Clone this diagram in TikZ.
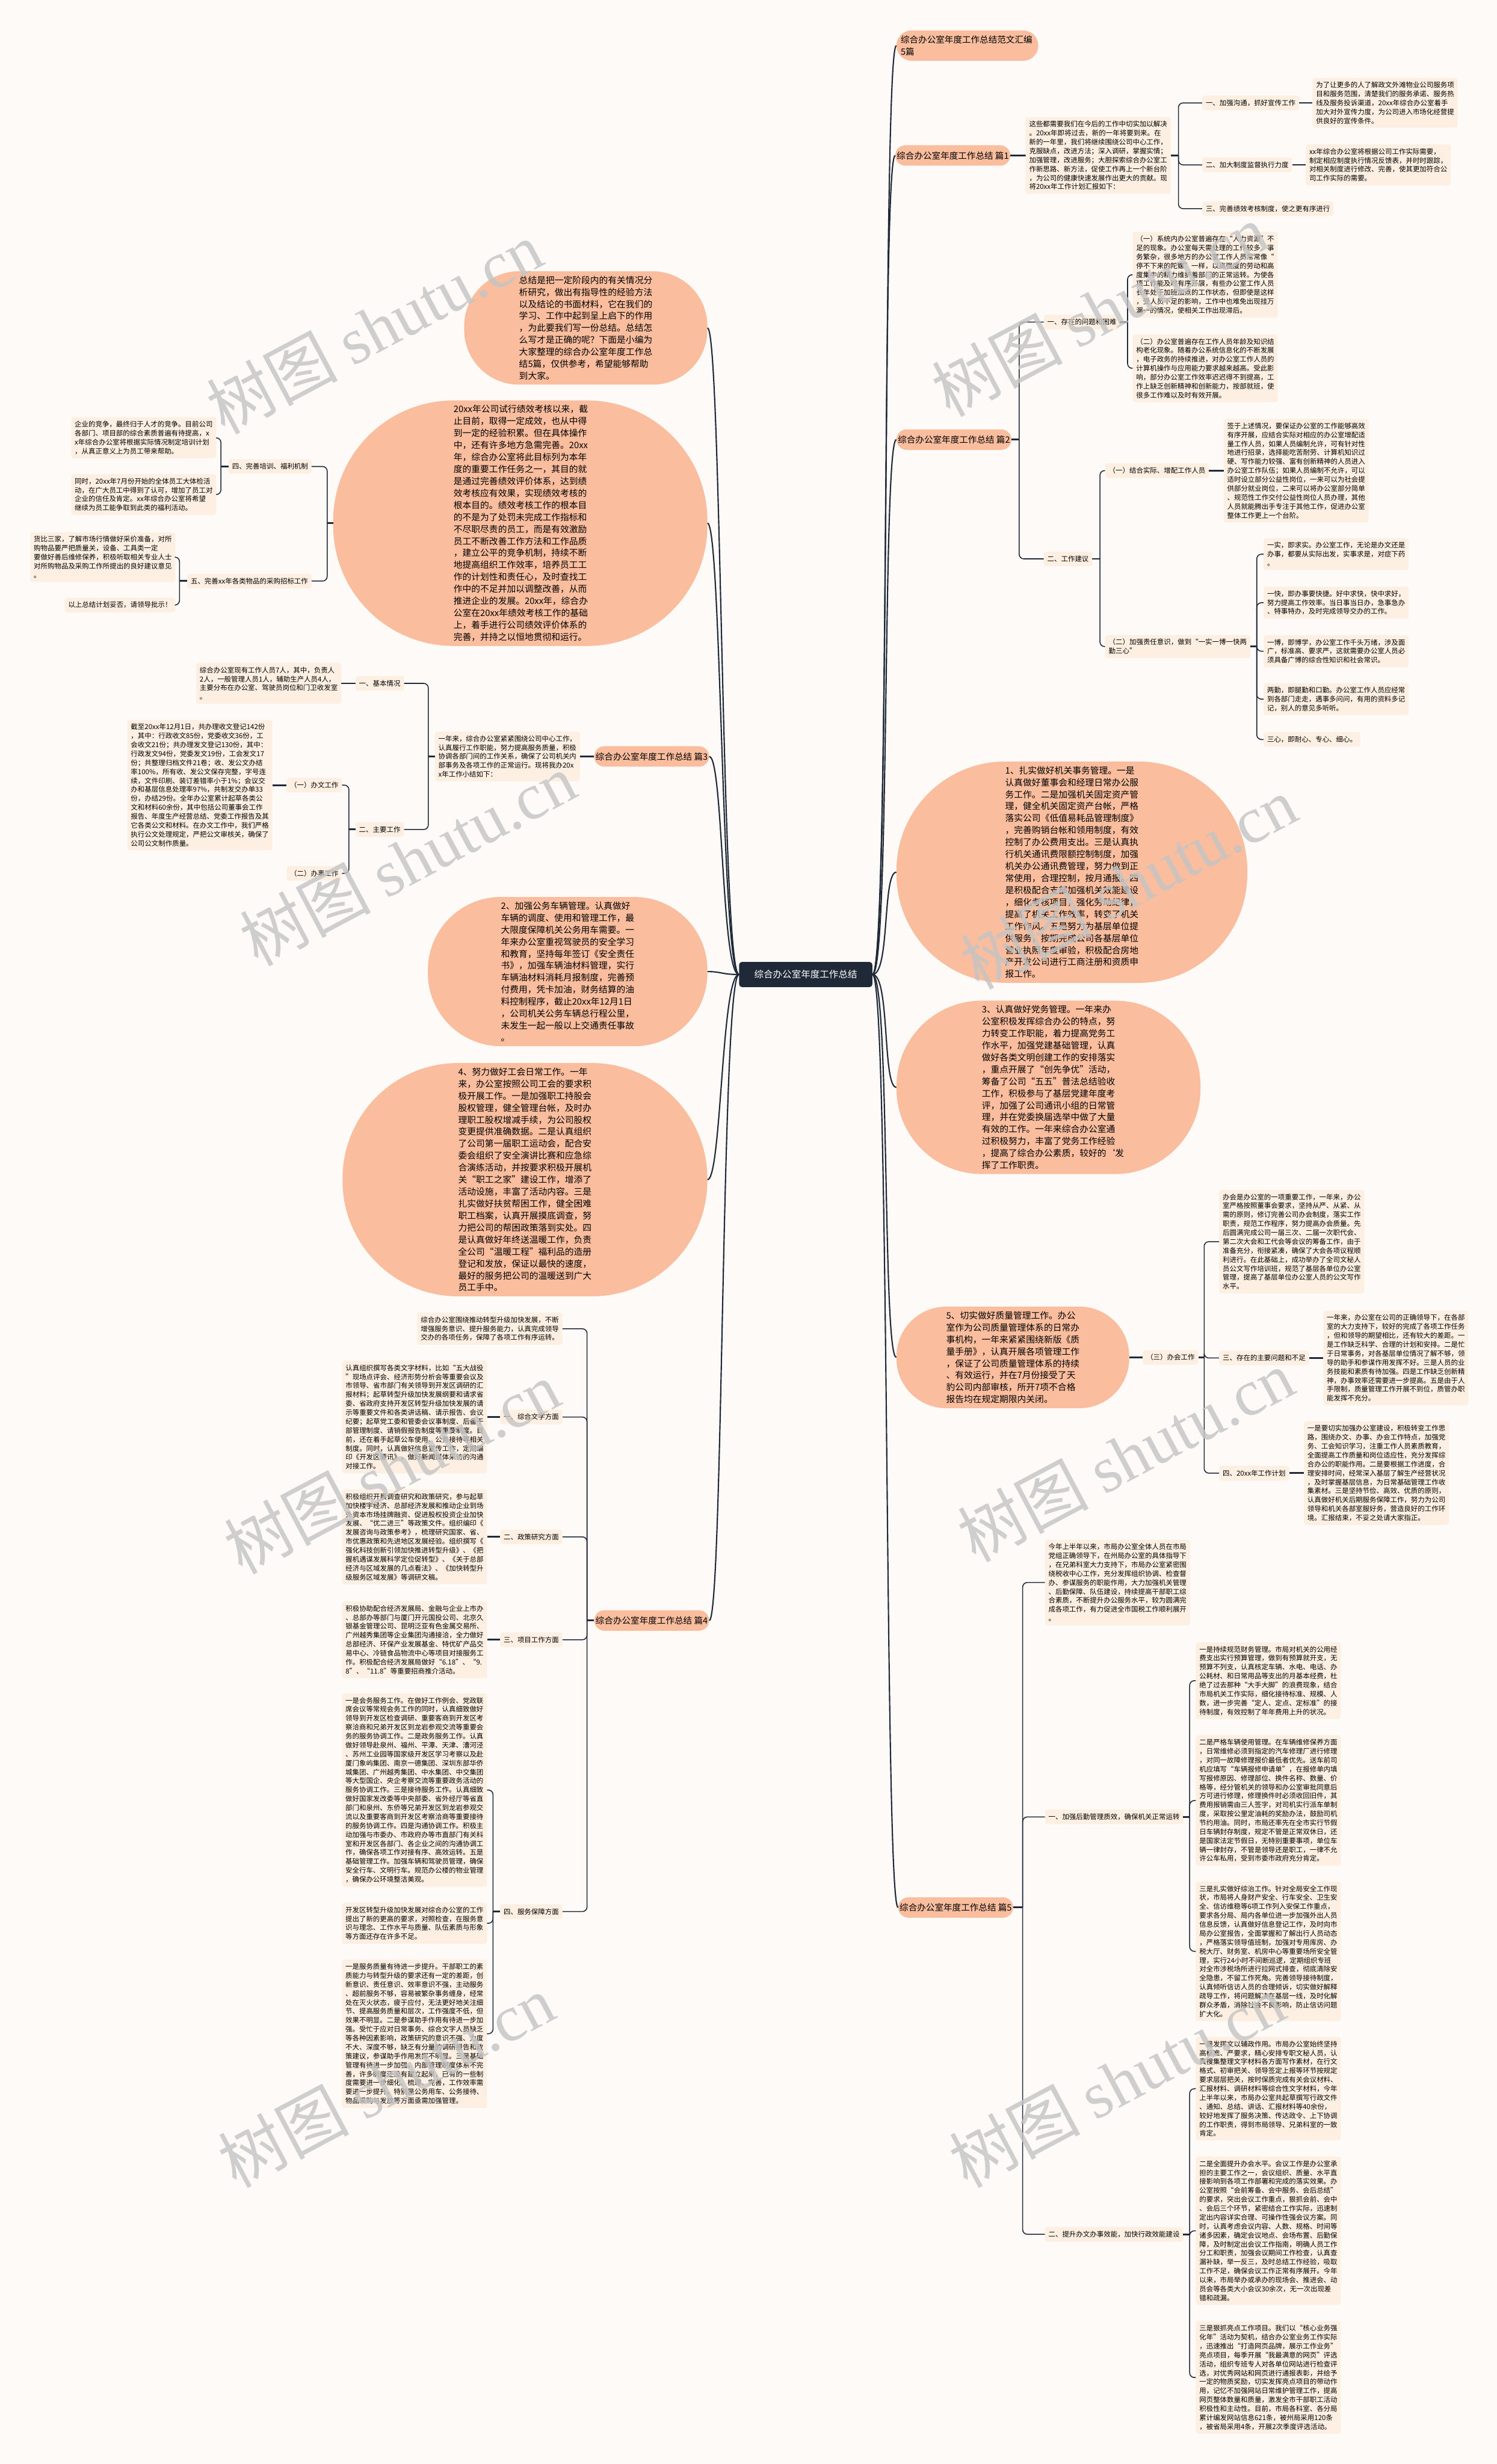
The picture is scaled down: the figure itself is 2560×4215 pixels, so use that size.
\documentclass[tikz,border=0pt]{standalone}
\usepackage{fontspec}
\setmainfont{Noto Sans CJK SC}
\newfontfamily\markserif{Liberation Serif}
\usetikzlibrary{shapes.misc, positioning}
\definecolor{mapSalmon}{RGB}{250,189,157}
\definecolor{mapCream}{RGB}{253,240,226}
\definecolor{mapInk}{RGB}{31,41,56}
\definecolor{mapPaper}{RGB}{253,250,247}
\definecolor{mapMark}{RGB}{196,196,196}
\newcommand{\leaffont}{\fontsize{11.8}{15.3}\selectfont}
\newcommand{\bubblefont}{\fontsize{15.2}{20.5}\selectfont}
\newcommand{\topicfont}{\fontsize{15}{20}\selectfont}

\begin{document}
\begin{tikzpicture}[x=1pt, y=-1pt,
    leaf/.style={fill=mapCream, rounded corners=4pt, text width=236pt, align=left, inner xsep=6pt, inner ysep=6.5pt, font=\leaffont},
    tag/.style={fill=mapCream, rounded corners=4pt, inner xsep=6pt, inner ysep=2pt, minimum height=25pt, font=\leaffont},
    topic/.style={rounded rectangle, fill=mapSalmon, inner xsep=1pt, inner ysep=2pt, minimum height=35pt, font=\topicfont},
    bubble/.style={fill=mapSalmon, text width=228pt, align=left, inner xsep=#1, rounded corners=#1, inner ysep=8pt, font=\bubblefont},
    hub/.style={fill=mapInk, text=white, rounded corners=5pt, minimum width=228pt, minimum height=43pt, font=\fontsize{16}{20}\selectfont},
    trunk/.style={draw=mapInk, line width=2.2pt},
    stub/.style={draw=mapInk, line width=3pt},
    spine/.style={draw=mapInk, line width=1.6pt, rounded corners=8pt},
    stamp/.style={text=mapMark, text opacity=0.8, rotate=28, font=\fontsize{112}{112}\selectfont}
  ]
  \useasboundingbox (0,0) rectangle (2560,4215);
  \fill[mapPaper] (0,0) rectangle (2560,4215);

  % centre
  \node[hub] (ct) at (1378,1667) {综合办公室年度工作总结};

  % ---------- right side ----------
  \node[topic, text width=228pt, align=left, inner ysep=9pt, anchor=west] (t0) at (1533,78) {综合办公室年度工作总结范文汇编\\5篇};

  % 篇1
  \node[topic, anchor=west] (p1) at (1531,266) {综合办公室年度工作总结 篇1};
  \node[leaf, right=26pt of p1] (i1) {这些都需要我们在今后的工作中切实加以解决\\
    。20xx年即将过去，新的一年将要到来。在\\
    新的一年里，我们将继续围绕公司中心工作，\\
    克服缺点，改进方法；深入调研，掌握实情；\\
    加强管理，改进服务；大胆探索综合办公室工\\
    作新思路、新方法，促使工作再上一个新台阶\\
    ，为公司的健康快速发展作出更大的贡献。现\\
    将20xx年工作计划汇报如下：};
  \node[tag, anchor=west] (a1) at (2056,176) {一、加强沟通，抓好宣传工作};
  \node[leaf, right=23pt of a1] (l1a) {为了让更多的人了解政文外滩物业公司服务项\\
    目和服务范围，清楚我们的服务承诺、服务热\\
    线及服务投诉渠道，20xx年综合办公室着手\\
    加大对外宣传力度，为公司进入市场化经营提\\
    供良好的宣传条件。};
  \node[tag, anchor=west] (a2) at (2056,282) {二、加大制度监督执行力度};
  \node[leaf, right=23pt of a2] (l1b) {xx年综合办公室将根据公司工作实际需要，\\
    制定相应制度执行情况反馈表，并时时跟踪，\\
    对相关制度进行修改、完善，使其更加符合公\\
    司工作实际的需要。};
  \node[tag, anchor=west] (a3) at (2056,357) {三、完善绩效考核制度，使之更有序进行};

  % 篇2
  \node[topic, anchor=west] (p2) at (1533,752) {综合办公室年度工作总结 篇2};
  \node[tag, anchor=west] (b1) at (1785,551) {一、存在的问题和困难};
  \node[leaf, anchor=west] (l2a) at (1937,470) {（一）系统内办公室普遍存在“人力资源”不\\
    足的现象。办公室每天需处理的工作较多，事\\
    务繁杂，很多地方的办公室工作人员常常像“\\
    停不下来的陀螺”一样，以高强度的劳动和高\\
    度集中的精力维护着部门的正常运转。为使各\\
    项工作能及时有序开展，有些办公室工作人员\\
    长年处于加班加点的工作状态，但即使是这样\\
    ，受人员不足的影响，工作中也难免出现挂万\\
    漏一的情况，使相关工作出现滞后。};
  \node[leaf, anchor=west] (l2b) at (1937,630) {（二）办公室普遍存在工作人员年龄及知识结\\
    构老化现象。随着办公系统信息化的不断发展\\
    ，电子政务的持续推进，对办公室工作人员的\\
    计算机操作与应用能力要求越来越高。受此影\\
    响，部分办公室工作效率迟迟得不到提高，工\\
    作上缺乏创新精神和创新能力，按部就班，使\\
    很多工作难以及时有效开展。};
  \node[tag, anchor=west] (b2) at (1785,956) {二、工作建议};
  \node[tag, anchor=west] (b21) at (1890,805) {（一）结合实际、增配工作人员};
  \node[leaf, right=25pt of b21] (l2c) {签于上述情况，要保证办公室的工作能够高效\\
    有序开展，应结合实际对相应的办公室增配适\\
    量工作人员，如果人员编制允许，可有针对性\\
    地进行招录，选择能吃苦耐劳、计算机知识过\\
    硬、写作能力较强、富有创新精神的人员进入\\
    办公室工作队伍；如果人员编制不允许，可以\\
    适时设立部分公益性岗位，一来可以为社会提\\
    供部分就业岗位，二来可以将办公室部分简单\\
    、规范性工作交付公益性岗位人员办理，其他\\
    人员就能腾出手专注于其他工作，促进办公室\\
    整体工作更上一个台阶。};
  \node[leaf, anchor=west] (b22) at (1890,1106) {（二）加强责任意识，做到“一实一博一快两\\勤三心”};
  \node[leaf, anchor=west] (l2d) at (2161,948) {一实，即求实。办公室工作，无论是办文还是\\
    办事，都要从实际出发，实事求是，对症下药\\
    。};
  \node[leaf, anchor=west] (l2e) at (2161,1031) {一快，即办事要快捷。好中求快，快中求好，\\
    努力提高工作效率。当日事当日办，急事急办\\
    、特事特办，及时完成领导交办的工作。};
  \node[leaf, anchor=west] (l2f) at (2161,1114) {一博，即博学，办公室工作千头万绪，涉及面\\
    广，标准高、要求严，这就需要办公室人员必\\
    须具备广博的综合性知识和社会常识。};
  \node[leaf, anchor=west] (l2g) at (2161,1196) {两勤，即腿勤和口勤。办公室工作人员应经常\\
    到各部门走走，遇事多问问，有用的资料多记\\
    记，别人的意见多听听。};
  \node[tag, anchor=west] (l2h) at (2161,1265) {三心，即耐心、专心、细心。};

  % bubbles 1, 3, 5
  \node[bubble=186pt, anchor=west] (e1) at (1533,1492) {1、扎实做好机关事务管理。一是\\
    认真做好董事会和经理日常办公服\\
    务工作。二是加强机关固定资产管\\
    理，健全机关固定资产台帐，严格\\
    落实公司《低值易耗品管理制度》\\
    ，完善购销台帐和领用制度，有效\\
    控制了办公费用支出。三是认真执\\
    行机关通讯费限额控制制度，加强\\
    机关办公通讯费管理，努力做到正\\
    常使用，合理控制，按月通报。四\\
    是积极配合支部加强机关效能建设\\
    ，细化考核项目，强化劳动纪律，\\
    提高了机关工作效率，转变了机关\\
    工作作风。五是努力为基层单位提\\
    供服务，按期完成公司各基层单位\\
    营业执照年度审验，积极配合房地\\
    产开发公司进行工商注册和资质申\\
    报工作。};
  \node[bubble=146pt, anchor=west] (e3) at (1533,1860) {3、认真做好党务管理。一年来办\\
    公室积极发挥综合办公的特点，努\\
    力转变工作职能，着力提高党务工\\
    作水平，加强党建基础管理，认真\\
    做好各类文明创建工作的安排落实\\
    ，重点开展了“创先争优”活动，\\
    筹备了公司“五五”普法总结验收\\
    工作，积极参与了基层党建年度考\\
    评，加强了公司通讯小组的日常管\\
    理，并在党委换届选举中做了大量\\
    有效的工作。一年来综合办公室通\\
    过积极努力，丰富了党务工作经验\\
    ，提高了综合办公素质，较好的`发\\
    挥了工作职责。};
  \node[bubble=85pt, anchor=west] (e5) at (1533,2322) {5、切实做好质量管理工作。办公\\
    室作为公司质量管理体系的日常办\\
    事机构，一年来紧紧围绕新版《质\\
    量手册》，认真开展各项管理工作\\
    ，保证了公司质量管理体系的持续\\
    、有效运行，并在7月份接受了天\\
    豹公司内部审核，所开7项不合格\\
    报告均在规定期限内关闭。};
  \node[tag, right=23pt of e5] (c0) {（三）办会工作};
  \node[leaf, anchor=west] (l5a) at (2085,2124) {办会是办公室的一项重要工作，一年来，办公\\
    室严格按照董事会要求，坚持从严、从紧、从\\
    需的原则，修订完善公司办会制度，落实工作\\
    职责，规范工作程序，努力提高办会质量。先\\
    后圆满完成公司一届三次、二届一次职代会、\\
    第二次大会和工代会等会议的筹备工作，由于\\
    准备充分，衔接紧凑，确保了大会各项议程顺\\
    利进行。在此基础上，成功举办了全司文秘人\\
    员公文写作培训班，规范了基层各单位办公室\\
    管理，提高了基层单位办公室人员的公文写作\\
    水平。};
  \node[tag, anchor=west] (c1) at (2085,2323) {三、存在的主要问题和不足};
  \node[leaf, right=24pt of c1] (l5b) {一年来，办公室在公司的正确领导下，在各部\\
    室的大力支持下，较好的完成了各项工作任务\\
    ，但和领导的期望相比，还有较大的差距。一\\
    是工作缺乏科学、合理的计划和安排。二是忙\\
    于日常事务，对各基层单位情况了解不够，领\\
    导的助手和参谋作用发挥不好。三是人员的业\\
    务技能和素质有待加强。四是工作缺乏创新精\\
    神，办事效率还需要进一步提高。五是由于人\\
    手限制，质量管理工作开展不到位，质管办职\\
    能发挥不充分。};
  \node[tag, anchor=west] (c2) at (2085,2520) {四、20xx年工作计划};
  \node[leaf, right=25pt of c2] (l5c) {一是要切实加强办公室建设，积极转变工作思\\
    路，围绕办文、办事、办会工作特点，加强党\\
    务、工会知识学习，注重工作人员素质教育，\\
    全面提高工作质量和岗位适应性，充分发挥综\\
    合办公的职能作用。二是要根据工作进度，合\\
    理安排时间，经常深入基层了解生产经营状况\\
    ，及时掌握基层信息，为日常基础管理工作收\\
    集素材。三是坚持节俭、高效、优质的原则，\\
    认真做好机关后期服务保障工作，努力为公司\\
    领导和机关各部室服好务，营造良好的工作环\\
    境。汇报结束，不妥之处请大家指正。};

  % 篇5
  \node[topic, anchor=west] (p5) at (1536,3263) {综合办公室年度工作总结 篇5};
  \node[leaf, anchor=west] (i5) at (1787,2707) {今年上半年以来，市局办公室全体人员在市局\\
    党组正确领导下，在州局办公室的具体指导下\\
    ，在兄弟科室大力支持下，市局办公室紧密围\\
    绕税收中心工作，充分发挥组织协调、检查督\\
    办、参谋服务的职能作用，大力加强机关管理\\
    、后勤保障、队伍建设，持续提高干部职工综\\
    合素质，不断提升办公服务水平，较为圆满完\\
    成各项工作，有力促进全市国税工作顺利展开\\
    。};
  \node[tag, anchor=west] (d1) at (1787,3108) {一、加强后勤管理质效，确保机关正常运转};
  \node[leaf, anchor=west] (l5d) at (2045,2875) {一是持续规范财务管理。市局对机关的公用经\\
    费支出实行预算管理，做到有预算就开支，无\\
    预算不列支，认真核定车辆、水电、电话、办\\
    公耗材、和日常用品等支出的月基本经费，杜\\
    绝了过去那种“大手大脚”的浪费现象，结合\\
    市局机关工作实际，细化接待标准、规模、人\\
    数，进一步完善“定人、定点、定标准”的接\\
    待制度，有效控制了年年费用上升的状况。};
  \node[leaf, anchor=west] (l5e) at (2045,3080) {二是严格车辆使用管理。在车辆维修保养方面\\
    ，日常维修必须到指定的汽车修理厂进行修理\\
    ，对同一故障修理报价最低者优先。送车前司\\
    机应填写“车辆报修申请单”，在报修单内填\\
    写报修原因、修理部位、换件名称、数量、价\\
    格等，经分管机关的领导和办公室审批同意后\\
    方可进行修理，修理换件时必须收回旧件，其\\
    费用报销需由三人签字，对司机实行派车单制\\
    度，采取按公里定油耗的奖励办法，鼓励司机\\
    节约用油。同时，市局还率先在全市实行节假\\
    日车辆封存制度，规定不管是正常双休日，还\\
    是国家法定节假日，无特别重要事项，单位车\\
    辆一律封存，不管是领导还是职工，一律不允\\
    许公车私用，受到市委市政府充分肯定。};
  \node[leaf, anchor=west] (l5f) at (2045,3338) {三是扎实做好综治工作。针对全局安全工作现\\
    状，市局将人身财产安全、行车安全、卫生安\\
    全、信访维稳等6项工作列入安保工作重点，\\
    要求各分局、局内各单位进一步加强外出人员\\
    信息反馈，认真做好信息登记工作，及时向市\\
    局办公室报告，全面掌握和了解出行人员动态\\
    ，严格落实领导值班制，加强对专用库房、办\\
    税大厅、财务室、机房中心等重要场所安全管\\
    理，实行24小时不间断巡逻，定期组织专班\\
    对全市涉税场所进行拉网式排查，彻底清除安\\
    全隐患，不留工作死角。完善领导接待制度，\\
    认真倾听信访人员的合理倾诉，切实做好解释\\
    疏导工作，将问题解决在基层一线，及时化解\\
    群众矛盾，消除社会不良影响，防止信访问题\\
    扩大化。};
  \node[tag, anchor=west] (d2) at (1787,3822) {二、提升办文办事效能，加快行政效能建设};
  \node[leaf, anchor=west] (l5g) at (2045,3573) {一是发挥文以辅政作用。市局办公室始终坚持\\
    高标准、严要求，精心安排专职文秘人员，认\\
    真搜集整理文字材料各方面写作素材，在行文\\
    格式、初审把关、领导签定上报等环节按规定\\
    要求层层把关，按时保质完成有关会议材料、\\
    汇报材料、调研材料等综合性文字材料，今年\\
    上半年以来，市局办公室共起草撰写行政文件\\
    、通知、总结、讲话、汇报材料等40余份，\\
    较好地发挥了服务决策、传达政令、上下协调\\
    的工作职责，得到市局领导、兄弟科室的一致\\
    肯定。};
  \node[leaf, anchor=west] (l5h) at (2045,3816) {二是全面提升办会水平。会议工作是办公室承\\
    担的主要工作之一，会议组织、质量、水平直\\
    接影响到各项工作部署和完成的落实效果。办\\
    公室按照“会前筹备、会中服务、会后总结”\\
    的要求，突出会议工作重点，狠抓会前、会中\\
    、会后三个环节，紧密结合工作实际，迅速制\\
    定出内容详实合理、可操作性强会议方案。同\\
    时，认真考虑会议内容、人数、规格、时间等\\
    诸多因素，确定会议地点、会场布置、后勤保\\
    障，及时制定出会议工作指南，明确人员工作\\
    分工和职责，加强会议期间工作检查，认真查\\
    漏补缺，举一反三，及时总结工作经验，吸取\\
    工作不足，确保会议工作正常有序展开。今年\\
    以来，市局举办或承办的现场会、推进会、动\\
    员会等各类大小会议30余次，无一次出现差\\
    错和疏漏。};
  \node[leaf, anchor=west] (l5i) at (2045,4067) {三是狠抓亮点工作项目。我们以“核心业务强\\
    化年”活动为契机，结合办公室业务工作实际\\
    ，迅速推出“打造网页品牌，展示工作业务”\\
    亮点项目，每季开展“我最满意的网页”评选\\
    活动，组织专班专人对各单位网站进行检查评\\
    选，对优秀网站和网页进行通报表彰，并给予\\
    一定的物质奖励，切实发挥亮点项目的带动作\\
    用，记忆不加强网站日常维护管理工作，提高\\
    网页整体数量和质量，激发全市干部职工活动\\
    积极性和主动性。目前，市局各科室、各分局\\
    累计编发网站信息621条，被州局采用120条\\
    ，被省局采用4条，开展2次季度评选活动。};

  % ---------- left side ----------
  \node[bubble=94pt, anchor=east] (e0) at (1210,561) {总结是把一定阶段内的有关情况分\\
    析研究，做出有指导性的经验方法\\
    以及结论的书面材料，它在我们的\\
    学习、工作中起到呈上启下的作用\\
    ，为此要我们写一份总结。总结怎\\
    么写才是正确的呢？下面是小编为\\
    大家整理的综合办公室年度工作总\\
    结5篇，仅供参考，希望能够帮助\\
    到大家。};
  \node[bubble=206pt, anchor=east] (e20) at (1210,895) {20xx年公司试行绩效考核以来，截\\
    止目前，取得一定成效，也从中得\\
    到一定的经验积累。但在具体操作\\
    中，还有许多地方急需完善。20xx\\
    年，综合办公室将此目标列为本年\\
    度的重要工作任务之一，其目的就\\
    是通过完善绩效评价体系，达到绩\\
    效考核应有效果，实现绩效考核的\\
    根本目的。绩效考核工作的根本目\\
    的不是为了处罚未完成工作指标和\\
    不尽职尽责的员工，而是有效激励\\
    员工不断改善工作方法和工作品质\\
    ，建立公平的竞争机制，持续不断\\
    地提高组织工作效率，培养员工工\\
    作的计划性和责任心，及时查找工\\
    作中的不足并加以调整改善，从而\\
    推进企业的发展。20xx年，综合办\\
    公室在20xx年绩效考核工作的基础\\
    上，着手进行公司绩效评价体系的\\
    完善，并持之以恒地贯彻和运行。};
  \node[tag, anchor=east] (f1) at (533,798) {四、完善培训、福利机制};
  \node[leaf, anchor=east] (fa) at (370,749) {企业的竞争，最终归于人才的竞争。目前公司\\
    各部门、项目部的综合素质普遍有待提高，x\\
    x年综合办公室将根据实际情况制定培训计划\\
    ，从真正意义上为员工带来帮助。};
  \node[leaf, anchor=east] (fb) at (370,846) {同时，20xx年7月份开始的全体员工大体检活\\
    动，在广大员工中得到了认可，增加了员工对\\
    企业的信任及肯定。xx年综合办公室将希望\\
    继续为员工能争取到此类的福利活动。};
  \node[tag, anchor=east] (f2) at (533,994) {五、完善xx年各类物品的采购招标工作};
  \node[leaf, anchor=east] (fc) at (300,953) {货比三家，了解市场行情做好采价准备，对所\\
    购物品要严把质量关，设备、工具类一定\\
    要做好善后维修保养，积极听取相关专业人士\\
    对所购物品及采购工作所提出的良好建议意见\\
    。};
  \node[tag, anchor=east] (fd) at (300,1035) {以上总结计划妥否，请领导批示！};

  % 篇3
  \node[topic, anchor=east] (p3) at (1213,1294) {综合办公室年度工作总结 篇3};
  \node[leaf, left=24pt of p3] (i3) {一年来，综合办公室紧紧围绕公司中心工作，\\
    认真履行工作职能，努力提高服务质量，积极\\
    协调各部门间的工作关系，确保了公司机关内\\
    部事务及各项工作的正常运行。现将我办20x\\
    x年工作小结如下：};
  \node[tag, anchor=east] (g1) at (691,1169) {一、基本情况};
  \node[leaf, left=24pt of g1] (gl1) {综合办公室现有工作人员7人，其中，负责人\\
    2人，一般管理人员1人，辅助生产人员4人，\\
    主要分布在办公室、驾驶员岗位和门卫收发室\\
    。};
  \node[tag, anchor=east] (g2) at (691,1419) {二、主要工作};
  \node[tag, anchor=east] (g21) at (585,1343) {（一）办文工作};
  \node[leaf, left=24pt of g21] (gl21) {截至20xx年12月1日，共办理收文登记142份\\
    ，其中：行政收文85份，党委收文36份，工\\
    会收文21份；共办理发文登记130份，其中：\\
    行政发文94份，党委发文19份，工会发文17\\
    份；共整理归档文件21卷；收、发公文办结\\
    率100\%，所有收、发公文保存完整，字号连\\
    续，文件印刷、装订差错率小于1\%；会议交\\
    办和基层信息处理率97\%，共制发交办单33\\
    份，办结29份。全年办公室累计起草各类公\\
    文和材料60余份，其中包括公司董事会工作\\
    报告、年度生产经营总结、党委工作报告及其\\
    它各类公文和材料。在办文工作中，我们严格\\
    执行公文处理规定，严把公文审核关，确保了\\
    公司公文制作质量。};
  \node[tag, anchor=east] (g22) at (585,1494) {（二）办事工作};

  % bubbles 2, 4
  \node[bubble=125pt, anchor=east] (e2) at (1210,1662) {2、加强公务车辆管理。认真做好\\
    车辆的调度、使用和管理工作，最\\
    大限度保障机关公务用车需要。一\\
    年来办公室重视驾驶员的安全学习\\
    和教育，坚持每年签订《安全责任\\
    书》，加强车辆油材料管理，实行\\
    车辆油材料消耗月报制度，完善预\\
    付费用，凭卡加油，财务结算的油\\
    料控制程序，截止20xx年12月1日\\
    ，公司机关公务车辆总行程公里，\\
    未发生一起一般以上交通责任事故\\
    。};
  \node[bubble=198pt, anchor=east] (e4) at (1210,2018) {4、努力做好工会日常工作。一年\\
    来，办公室按照公司工会的要求积\\
    极开展工作。一是加强职工持股会\\
    股权管理，健全管理台帐，及时办\\
    理职工股权增减手续，为公司股权\\
    变更提供准确数据。二是认真组织\\
    了公司第一届职工运动会，配合安\\
    委会组织了安全演讲比赛和应急综\\
    合演练活动，并按要求积极开展机\\
    关“职工之家”建设工作，增添了\\
    活动设施，丰富了活动内容。三是\\
    扎实做好扶贫帮困工作，健全困难\\
    职工档案，认真开展摸底调查，努\\
    力把公司的帮困政策落到实处。四\\
    是认真做好年终送温暖工作，负责\\
    全公司“温暖工程”福利品的造册\\
    登记和发放，保证以最快的速度，\\
    最好的服务把公司的温暖送到广大\\
    员工手中。};

  % 篇4
  \node[topic, anchor=east] (p4) at (1213,2772) {综合办公室年度工作总结 篇4};
  \node[leaf, anchor=east] (i4) at (962,2273) {综合办公室围绕推动转型升级加快发展，不断\\
    增强服务意识、提升服务能力，认真完成领导\\
    交办的各项任务，保障了各项工作有序运转。};
  \node[tag, anchor=east] (h1) at (962,2424) {一、综合文字方面};
  \node[leaf, left=22pt of h1] (hl1) {认真组织撰写各类文字材料，比如“五大战役\\
    ”现场点评会、经济形势分析会等重要会议及\\
    市领导、省市部门有关领导到开发区调研的汇\\
    报材料；起草转型升级加快发展纲要和请求省\\
    委、省政府支持开发区转型升级加快发展的请\\
    示等重要文件和各类讲话稿、请示报告、会议\\
    纪要；起草党工委和管委会议事制度、后备干\\
    部管理制度、请销假报告制度等重要制度。目\\
    前，还在着手起草公车使用、公务接待等相关\\
    制度。同时，认真做好信息宣传工作，定期编\\
    印《开发区要讯》，做好新闻媒体采访的沟通\\
    对接工作。};
  \node[tag, anchor=east] (h2) at (962,2629) {二、政策研究方面};
  \node[leaf, left=22pt of h2] (hl2) {积极组织开展调查研究和政策研究，参与起草\\
    加快楼宇经济、总部经济发展和推动企业到场\\
    外资本市场挂牌融资、促进股权投资企业加快\\
    发展、“优二进三”等政策文件。组织编印《\\
    发展咨询与政策参考》，梳理研究国家、省、\\
    市优惠政策和先进地区发展经验。组织撰写《\\
    强化科技创新引领加快推进转型升级》、《把\\
    握机遇谋发展科学定位促转型》、《关于总部\\
    经济与区域发展的几点看法》、《加快转型升\\
    级服务区域发展》等调研文稿。};
  \node[tag, anchor=east] (h3) at (962,2805) {三、项目工作方面};
  \node[leaf, left=22pt of h3] (hl3) {积极协助配合经济发展局、金融与企业上市办\\
    、总部办等部门与厦门开元国投公司、北京久\\
    银基金管理公司、昆明泛亚有色金属交易所、\\
    广州越秀集团等企业集团沟通接洽，全力做好\\
    总部经济、环保产业发展基金、特优矿产品交\\
    易中心、冷链食品物流中心等项目对接服务工\\
    作。积极配合经济发展局做好“6.18”、“9.\\
    8”、“11.8”等重要招商推介活动。};
  \node[tag, anchor=east] (h4) at (962,3270) {四、服务保障方面};
  \node[leaf, anchor=east] (hl4a) at (833,3062) {一是会务服务工作。在做好工作例会、党政联\\
    席会议等常规会务工作的同时，认真细致做好\\
    领导到开发区检查调研、重要客商到开发区考\\
    察洽商和兄弟开发区到龙岩参观交流等重要会\\
    务的服务协调工作。二是政务服务工作。认真\\
    做好领导赴泉州、福州、平潭、天津、漕河泾\\
    、苏州工业园等国家级开发区学习考察以及赴\\
    厦门象屿集团、南京一德集团、深圳东部华侨\\
    城集团、广州越秀集团、中水集团、中交集团\\
    等大型国企、央企考察交流等重要政务活动的\\
    服务协调工作。三是接待服务工作。认真细致\\
    做好国家发改委等中央部委、省外经厅等省直\\
    部门和泉州、东侨等兄弟开发区到龙岩参观交\\
    流以及重要客商到开发区考察洽商等重要接待\\
    的服务协调工作。四是沟通协调工作。积极主\\
    动加强与市委办、市政府办等市直部门有关科\\
    室和开发区各部门、各企业之间的沟通协调工\\
    作，确保各项工作对接有序、高效运转。五是\\
    基础管理工作。加强车辆和驾驶员管理，确保\\
    安全行车、文明行车。规范办公楼的物业管理\\
    ，确保办公环境整洁美观。};
  \node[leaf, anchor=east] (hl4b) at (833,3290) {开发区转型升级加快发展对综合办公室的工作\\
    提出了新的更高的要求，对照检查，在服务意\\
    识与理念、工作水平与质量、队伍素质与形象\\
    等方面还存在许多不足。};
  \node[leaf, anchor=east] (hl4c) at (833,3479) {一是服务质量有待进一步提升。干部职工的素\\
    质能力与转型升级的要求还有一定的差距，创\\
    新意识、责任意识、效率意识不强，主动服务\\
    、超前服务不够，容易被繁杂事务缠身，经常\\
    处在灭火状态，疲于应付，无法更好地关注细\\
    节、提高服务质量和层次，工作强度不低，但\\
    效果不明显。二是参谋助手作用有待进一步加\\
    强。受忙于应对日常事务、综合文字人员缺乏\\
    等各种因素影响，政策研究的意识不强、力度\\
    不大、深度不够，缺乏有分量的调研报告和政\\
    策建议，参谋助手作用发挥不明显。三是基础\\
    管理有待进一步加强。内部管理制度体系不完\\
    善，许多制度还没有建立起来，已有的一些制\\
    度需要进一步细化、梳理、完善，工作效率需\\
    要进一步提升。特别是公务用车、公务接待、\\
    物品采购与发放等方面亟需加强管理。};

  % ---------- connectors ----------
  \foreach \n in {t0,p1,p2,e1,e3,e5,p5}
    \draw[trunk] (ct.east) .. controls +(30,0) and +(-24,0) .. (\n.west);
  \foreach \n in {e0,e20,p3,e2,e4,p4}
    \draw[trunk] (ct.west) .. controls +(-30,0) and +(24,0) .. (\n.east);

  \draw[stub] (p1) -- (i1);
  \draw[stub] (a1) -- (l1a);
  \draw[stub] (a2) -- (l1b);
  \draw[stub] (b21) -- (l2c);
  \draw[stub] (e5) -- (c0);
  \draw[stub] (c1) -- (l5b);
  \draw[stub] (c2) -- (l5c);
  \draw[stub] (p3) -- (i3);
  \draw[stub] (g1) -- (gl1);
  \draw[stub] (g21) -- (gl21);
  \draw[stub] (h1) -- (hl1);
  \draw[stub] (h2) -- (hl2);
  \draw[stub] (h3) -- (hl3);

  % right-hand brackets
  \path (i1.east) ++(13,0) coordinate (i1j);
  \draw[stub] (i1.east) -- (i1j);
  \foreach \c in {a1,a2,a3} \draw[spine] (i1j) |- (\c.west);
  \path (p2.east) ++(13,0) coordinate (p2j);
  \draw[stub] (p2.east) -- (p2j);
  \foreach \c in {b1,b2} \draw[spine] (p2j) |- (\c.west);
  \path (b1.east) ++(13,0) coordinate (b1j);
  \draw[stub] (b1.east) -- (b1j);
  \foreach \c in {l2a,l2b} \draw[spine] (b1j) |- (\c.west);
  \path (b2.east) ++(13,0) coordinate (b2j);
  \draw[stub] (b2.east) -- (b2j);
  \foreach \c in {b21,b22} \draw[spine] (b2j) |- (\c.west);
  \path (b22.east) ++(11,0) coordinate (b22j);
  \draw[stub] (b22.east) -- (b22j);
  \foreach \c in {l2d,l2e,l2f,l2g,l2h} \draw[spine] (b22j) |- (\c.west);
  \path (c0.east) ++(10,0) coordinate (c0j);
  \draw[stub] (c0.east) -- (c0j);
  \foreach \c in {l5a,c1,c2} \draw[spine] (c0j) |- (\c.west);
  \path (p5.east) ++(16,0) coordinate (p5j);
  \draw[stub] (p5.east) -- (p5j);
  \foreach \c in {i5,d1,d2} \draw[spine] (p5j) |- (\c.west);
  \path (d1.east) ++(11,0) coordinate (d1j);
  \draw[stub] (d1.east) -- (d1j);
  \foreach \c in {l5d,l5e,l5f} \draw[spine] (d1j) |- (\c.west);
  \path (d2.east) ++(11,0) coordinate (d2j);
  \draw[stub] (d2.east) -- (d2j);
  \foreach \c in {l5g,l5h,l5i} \draw[spine] (d2j) |- (\c.west);

  % left-hand brackets
  \path (e20.west) ++(-10,0) coordinate (e20j);
  \draw[stub] (e20.west) -- (e20j);
  \foreach \c in {f1,f2} \draw[spine] (e20j) |- (\c.east);
  \path (f1.west) ++(-13,0) coordinate (f1j);
  \draw[stub] (f1.west) -- (f1j);
  \foreach \c in {fa,fb} \draw[spine] (f1j) |- (\c.east);
  \path (f2.west) ++(-13,0) coordinate (f2j);
  \draw[stub] (f2.west) -- (f2j);
  \foreach \c in {fc,fd} \draw[spine] (f2j) |- (\c.east);
  \path (i3.west) ++(-11,0) coordinate (i3j);
  \draw[stub] (i3.west) -- (i3j);
  \foreach \c in {g1,g2} \draw[spine] (i3j) |- (\c.east);
  \path (g2.west) ++(-11,0) coordinate (g2j);
  \draw[stub] (g2.west) -- (g2j);
  \foreach \c in {g21,g22} \draw[spine] (g2j) |- (\c.east);
  \path (p4.west) ++(-12,0) coordinate (p4j);
  \draw[stub] (p4.west) -- (p4j);
  \foreach \c in {i4,h1,h2,h3,h4} \draw[spine] (p4j) |- (\c.east);
  \path (h4.west) ++(-12,0) coordinate (h4j);
  \draw[stub] (h4.west) -- (h4j);
  \foreach \c in {hl4a,hl4b,hl4c} \draw[spine] (h4j) |- (\c.east);

  % watermarks
  \foreach \wx/\wy/\wn in {640/560/wm1, 1880/530/wm2, 697/1470/wm3, 1930/1510/wm4,
                           670/2510/wm5, 1925/2490/wm6, 660/3560/wm7, 1910/3560/wm8}
    \node[stamp] (\wn) at (\wx,\wy) {树图 {\markserif shutu.cn}};
\end{tikzpicture}
\end{document}
